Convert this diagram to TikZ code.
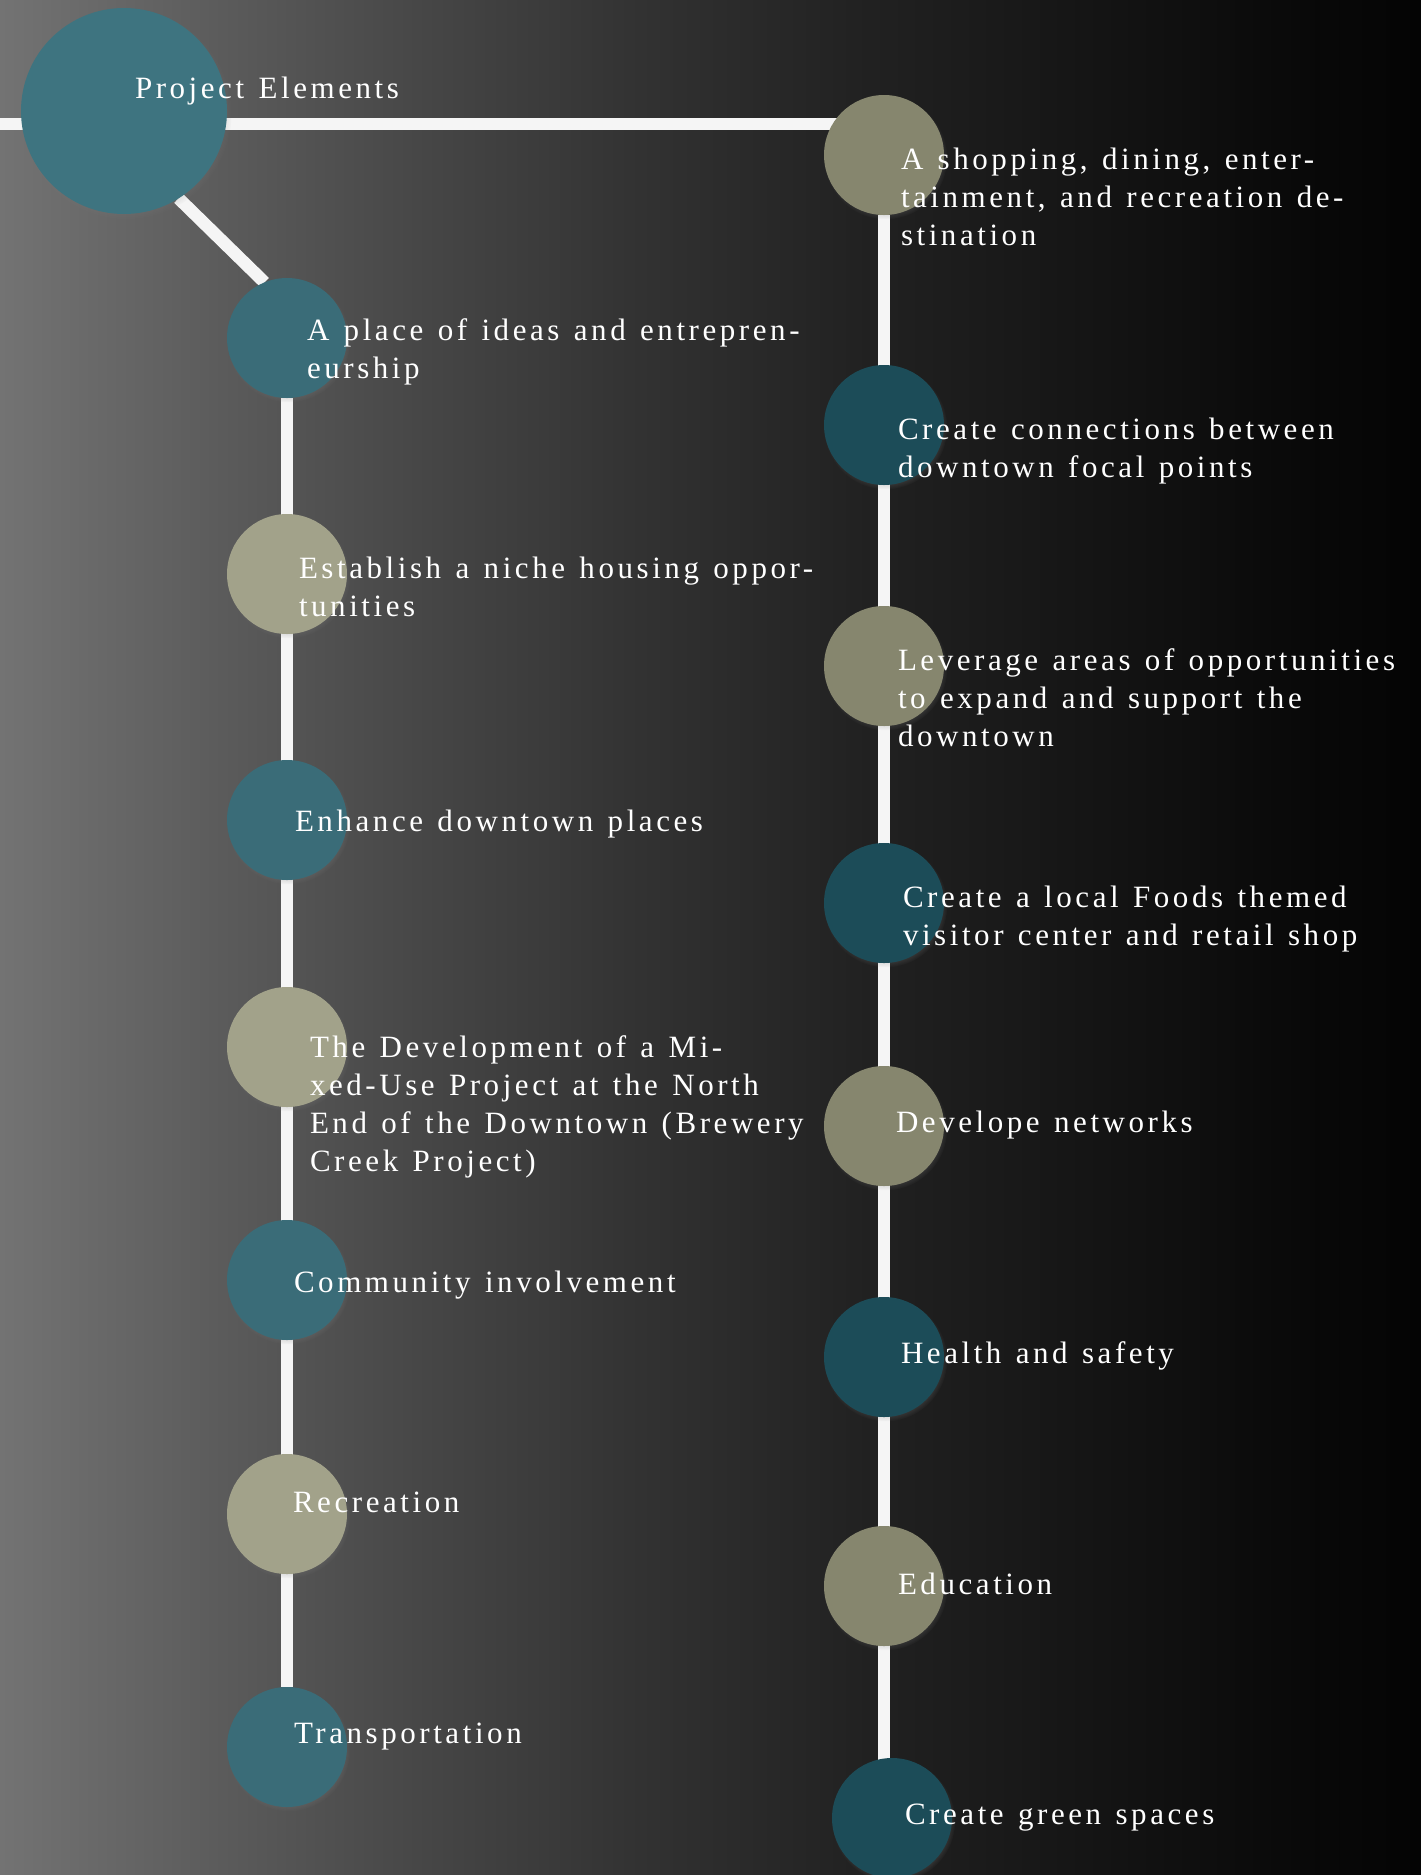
\documentclass[tikz,border=0pt]{standalone}
\usepackage{fontspec}
\newfontfamily\tf[LetterSpace=11.5,WordSpace=1.27]{Liberation Serif}
\usetikzlibrary{shadows,fadings}
\pgfdeclarelayer{bg}
\pgfdeclarelayer{edges}
\pgfsetlayers{bg,edges,main}
\definecolor{g0}{RGB}{115,115,115}
\definecolor{g15}{RGB}{92,92,92}
\definecolor{g30}{RGB}{70,70,70}
\definecolor{g45}{RGB}{50,50,50}
\definecolor{g60}{RGB}{34,34,34}
\definecolor{g75}{RGB}{22,22,22}
\definecolor{g90}{RGB}{10,10,10}
\definecolor{g100}{RGB}{4,4,4}
\definecolor{bigteal}{RGB}{62,116,128}
\definecolor{lteal}{RGB}{58,108,120}
\definecolor{lkhaki}{RGB}{162,162,138}
\definecolor{rteal}{RGB}{28,76,88}
\definecolor{rkhaki}{RGB}{134,134,110}
\definecolor{linew}{RGB}{245,245,245}
\pgfdeclarehorizontalshading{bgshade}{100bp}{color(0bp)=(g0); color(25bp)=(g0); color(32.5bp)=(g15); color(40bp)=(g30); color(47.5bp)=(g45); color(55bp)=(g60); color(62.5bp)=(g75); color(70bp)=(g90); color(75bp)=(g100); color(100bp)=(g100)}
\newcommand\mlines[1]{\vtop{\halign{##\hfil\cr#1\crcr}}}
\begin{document}
\begin{tikzpicture}[x=1pt,y=-1pt,
  dot/.style={circle, minimum size=120pt, inner sep=0pt, outer sep=0pt, draw=none,
    circular drop shadow={shadow xshift=1.5pt, shadow yshift=-2.5pt, shadow scale=1.03, opacity=0.35}},
  lt/.style={dot, fill=lteal},
  lk/.style={dot, fill=lkhaki},
  rt/.style={dot, fill=rteal},
  rk/.style={dot, fill=rkhaki},
  lbl/.style={anchor=base west, inner sep=0pt, outer sep=0pt, text=white, font=\tf\fontsize{31}{38}\selectfont},
  link/.style={line width=12.5pt, draw=linew}]
\useasboundingbox (0,0) rectangle (1421,1875);
\begin{pgfonlayer}{bg}
\shade[shading=bgshade] (0,0) rectangle (1421,1875);
\end{pgfonlayer}
% circles
\node[dot, fill=bigteal, minimum size=206pt] (big) at (124,111) {};
\node[lt] (l1) at (287,338) {};
\node[lk] (l2) at (287,574) {};
\node[lt] (l3) at (287,820) {};
\node[lk] (l4) at (287,1047) {};
\node[lt] (l5) at (287,1280) {};
\node[lk] (l6) at (287,1514) {};
\node[lt] (l7) at (287,1747) {};
\node[rk] (r1) at (884,155) {};
\node[rt] (r2) at (884,425) {};
\node[rk] (r3) at (884,666) {};
\node[rt] (r4) at (884,903) {};
\node[rk] (r5) at (884,1126) {};
\node[rt] (r6) at (884,1357) {};
\node[rk] (r7) at (884,1586) {};
\node[rt] (r8) at (892,1818) {};
\coordinate (h0) at (0,124);
% connectors
\begin{pgfonlayer}{edges}
\draw[link] (h0) -- (h0 -| r1);
\draw[link] (big.-58) -- (l1.112);
\draw[link] (l1) -- (l7);
\draw[link] (r1) -- (r1 |- r8);
\end{pgfonlayer}
% labels
\node[lbl] (tbig) at (135,98) {Project Elements};
\node[lbl] (tl1) at (307,340) {\mlines{A place of ideas and entrepren-\cr eurship}};
\node[lbl] (tl2) at (299,578) {\mlines{Establish a niche housing oppor-\cr tunities}};
\node[lbl] (tl3) at (295,831) {Enhance downtown places};
\node[lbl] (tl4) at (310,1057) {\mlines{The Development of a Mi-\cr xed-Use Project at the North\cr End of the Downtown (Brewery\cr Creek Project)}};
\node[lbl] (tl5) at (294,1292) {Community involvement};
\node[lbl] (tl6) at (293,1512) {Recreation};
\node[lbl] (tl7) at (294,1743) {Transportation};
\node[lbl] (tr1) at (901,169) {\mlines{A shopping, dining, enter-\cr tainment, and recreation de-\cr stination}};
\node[lbl] (tr2) at (898,439) {\mlines{Create connections between\cr downtown focal points}};
\node[lbl] (tr3) at (898,670) {\mlines{Leverage areas of opportunities\cr to expand and support the\cr downtown}};
\node[lbl] (tr4) at (903,907) {\mlines{Create a local Foods themed\cr visitor center and retail shop}};
\node[lbl] (tr5) at (896,1132) {Develope networks};
\node[lbl] (tr6) at (901,1363) {Health and safety};
\node[lbl] (tr7) at (898,1594) {Education};
\node[lbl] (tr8) at (905,1824) {Create green spaces};
\end{tikzpicture}
\end{document}
